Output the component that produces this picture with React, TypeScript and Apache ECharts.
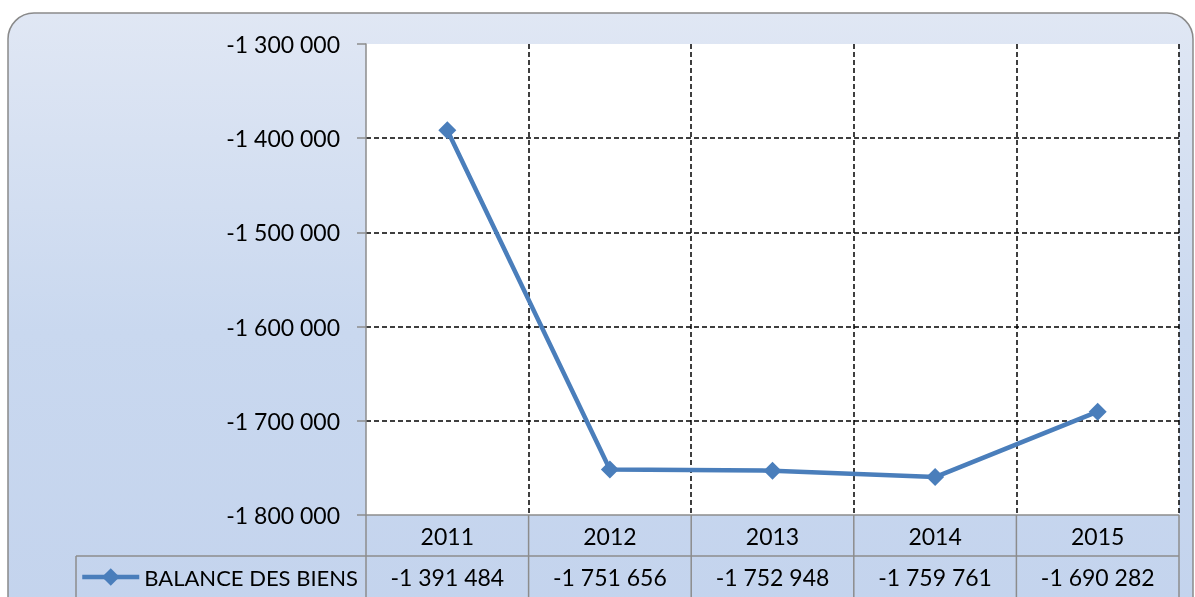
import React, { useEffect, useRef } from "react";
import * as echarts from "echarts";

const categories = ["2011", "2012", "2013", "2014", "2015"];
const balanceDesBiens = [-1391484, -1751656, -1752948, -1759761, -1690282];
const seriesName = "BALANCE DES BIENS";
const yMin = -1800000;
const yMax = -1300000;
const yInterval = 100000;

const W = 1195;
const H = 597;
const GRID_LEFT = 366;
const GRID_RIGHT_X = 1179;
const GRID_TOP = 44;
const GRID_BOTTOM_Y = 515;
const ROW_H = 41;
const LEGEND_CELL_LEFT = 76;
const FONT = "Lato";
const FS = 23;
const BORDER = "#8c8c8c";
const LINE_COLOR = "#4a7ebb";

const fmt = (v: number) => {
  const s = Math.abs(Math.round(v)).toString().replace(/\B(?=(\d{3})+(?!\d))/g, " ");
  return (v < 0 ? "-" : "") + s;
};

export default function App() {
  const ref = useRef<HTMLDivElement>(null);
  useEffect(() => {
    if (!ref.current) return;
    const chart = echarts.init(ref.current, undefined, { renderer: "svg" });
    const colW = (GRID_RIGHT_X - GRID_LEFT) / categories.length;
    const tableLines: any[] = [];
    const line = (x1: number, y1: number, x2: number, y2: number) => ({
      type: "line",
      z: 100,
      shape: { x1, y1, x2, y2 },
      style: { stroke: BORDER, lineWidth: 1.5 },
    });
    tableLines.push(line(GRID_LEFT, GRID_BOTTOM_Y, GRID_RIGHT_X, GRID_BOTTOM_Y));
    tableLines.push(line(LEGEND_CELL_LEFT, GRID_BOTTOM_Y + ROW_H, GRID_RIGHT_X, GRID_BOTTOM_Y + ROW_H));
    tableLines.push(line(LEGEND_CELL_LEFT, GRID_BOTTOM_Y + ROW_H, LEGEND_CELL_LEFT, H + 10));
    for (let i = 0; i <= categories.length; i++) {
      const x = GRID_LEFT + i * colW;
      tableLines.push(line(x, GRID_BOTTOM_Y, x, H + 10));
    }

    chart.setOption({
      animation: false,
      textStyle: { fontFamily: FONT },
      graphic: [
        {
          type: "rect",
          z: -100,
          silent: true,
          shape: { x: 8, y: 13, width: 1185, height: 640, r: 26 },
          style: {
            fill: new echarts.graphic.LinearGradient(0, 0, 0, 1, [
              { offset: 0, color: "#e0e7f4" },
              { offset: 0.5, color: "#c9d8ef" },
              { offset: 1, color: "#c3d3ed" },
            ]),
            stroke: "#8a8a8a",
            lineWidth: 1.5,
          },
        },
        ...tableLines,
      ],
      legend: {
        left: 80,
        top: GRID_BOTTOM_Y + ROW_H + 10,
        itemWidth: 57,
        itemHeight: 22,
        itemGap: 5,
        padding: 0,
        data: [seriesName],
        lineStyle: { width: 4.5, color: LINE_COLOR },
        itemStyle: { color: LINE_COLOR },
        textStyle: { fontFamily: FONT, fontSize: 22, color: "#000" },
      },
      grid: {
        left: GRID_LEFT,
        top: GRID_TOP,
        width: GRID_RIGHT_X - GRID_LEFT,
        height: GRID_BOTTOM_Y - GRID_TOP,
        show: true,
        backgroundColor: "#ffffff",
        borderWidth: 0,
      },
      xAxis: [
        {
          type: "category",
          data: categories,
          boundaryGap: true,
          axisLine: { show: false },
          axisTick: { show: false },
          axisLabel: {
            margin: 9,
            fontFamily: FONT,
            fontSize: FS,
            color: "#000",
            lineHeight: 23,
          },
          splitLine: {
            show: true,
            showMinLine: false,
            lineStyle: { color: "#000", type: [5, 3], width: 1.5 },
          },
        },
        {
          type: "category",
          position: "bottom",
          offset: ROW_H,
          data: balanceDesBiens.map(fmt),
          boundaryGap: true,
          axisLine: { show: false },
          axisTick: { show: false },
          splitLine: { show: false },
          axisLabel: {
            margin: 9,
            fontFamily: FONT,
            fontSize: FS,
            color: "#000",
            lineHeight: 23,
          },
        },
      ],
      yAxis: {
        type: "value",
        min: yMin,
        max: yMax,
        interval: yInterval,
        axisLine: { show: true, lineStyle: { color: BORDER, width: 1.5 } },
        axisTick: { show: true, length: 9, lineStyle: { color: BORDER, width: 1.5 } },
        axisLabel: {
          margin: 26,
          fontFamily: FONT,
          fontSize: FS,
          color: "#000",
          formatter: (v: number) => fmt(v),
        },
        splitLine: {
          show: true,
          showMinLine: false,
          showMaxLine: false,
          lineStyle: { color: "#000", type: [5, 3], width: 1.5 },
        },
      },
      series: [
        {
          name: seriesName,
          type: "line",
          xAxisIndex: 0,
          data: balanceDesBiens,
          symbol: "diamond",
          symbolSize: [18, 18],
          lineStyle: { color: LINE_COLOR, width: 4.5 },
          itemStyle: { color: LINE_COLOR },
          z: 10,
        },
      ],
    });
    return () => chart.dispose();
  }, []);
  return (
    <div
      ref={ref}
      style={{ position: "fixed", left: 0, top: 0, width: W, height: H }}
    />
  );
}
